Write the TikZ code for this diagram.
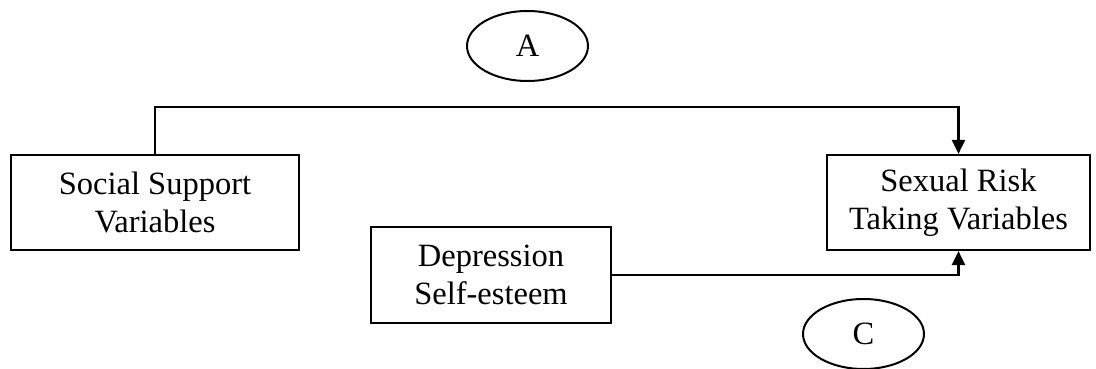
\documentclass[tikz,border=0pt]{standalone}
\usepackage{fontspec}
\setmainfont{Liberation Serif}
\usetikzlibrary{arrows.meta,shapes.geometric}
\begin{document}
\begin{tikzpicture}[x=1pt,y=-1pt,
  box/.style={draw,line width=2.2pt,inner sep=0pt,align=center,font=\fontsize{32.5}{38}\selectfont},
  oval/.style={draw,ellipse,line width=2pt,inner sep=0pt,minimum width=121pt,minimum height=70pt,font=\fontsize{32.5}{38}\selectfont},
  conn/.style={line width=2.2pt,-{Triangle[length=14pt,width=13pt]}}]
\useasboundingbox (0,0) rectangle (1096,369);
\node[box,minimum width=288pt,minimum height=95pt] (social) at (155,202.5) {Social Support\\Variables};
\node[box,minimum width=263pt,minimum height=95pt] (sexual) at (958.5,202.5) {Sexual Risk\\Taking Variables};
\node[box,minimum width=240pt,minimum height=96pt] (dep) at (491,275) {Depression\\Self-esteem};
\node[oval] (A) at (527.5,46) {A};
\node[oval] (C) at (863.5,334) {C};
\coordinate (tl) at (155,107);
\coordinate (tr) at (958.5,107);
\coordinate (br) at (958.5,275);
\draw[conn] (social.north) -- (tl) -- (tr) -- (sexual.north);
\draw[conn] (dep.east) -- (br) -- (sexual.south);
\end{tikzpicture}
\end{document}
